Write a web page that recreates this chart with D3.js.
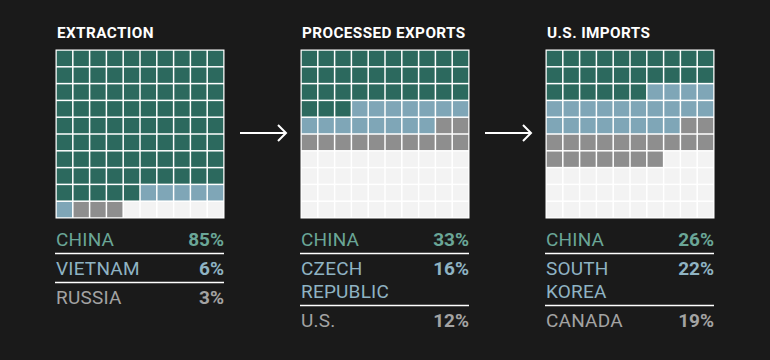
<!DOCTYPE html>
<html>
<head>
<meta charset="utf-8">
<script src="https://cdn.jsdelivr.net/npm/d3@7"></script>
<style>
html,body{margin:0;padding:0;background:#1a1a1a;}
svg{display:block;}
</style>
</head>
<body>
<svg id="chart" width="770" height="360"></svg>
<script>
// ---- data ----
const titles = ["EXTRACTION", "PROCESSED EXPORTS", "U.S. IMPORTS"];
const countries = [
  ["CHINA", "VIETNAM", "RUSSIA"],
  ["CHINA", "CZECH REPUBLIC", "U.S."],
  ["CHINA", "SOUTH KOREA", "CANADA"]
];
const shares = [
  [85, 6, 3],
  [33, 16, 12],
  [26, 22, 19]
];
// squares drawn in each waffle
const squares = [
  [85, 6, 3],
  [33, 15, 12],
  [26, 22, 19]
];
const rankColors = ["#2c695e", "#7fa6b7", "#8e8e8e"];
const textColors = ["#6aa697", "#8fb3c3", "#a3a3a3"];
const emptyColor = "#f3f3f3";

// ---- layout ----
const svg = d3.select("#chart");
const W = 770, H = 360;
svg.append("rect").attr("width", W).attr("height", H).attr("fill", "#1a1a1a");

const panelX = d3.scalePoint().domain(d3.range(titles.length)).range([56, 546]);
const gridSize = 168;
const gridTop = 50;
const cellScale = d3.scaleBand().domain(d3.range(10)).range([0, gridSize]).padding(0);

const font = "'Roboto', 'Liberation Sans', sans-serif";

titles.forEach((title, p) => {
  const g = svg.append("g").attr("transform", `translate(${panelX(p)},0)`);
  g.append("text")
    .attr("x", 1).attr("y", 38)
    .attr("fill", "#ffffff")
    .attr("font-family", font)
    .attr("font-weight", 700)
    .attr("font-size", 15.3)
    .attr("letter-spacing", 0.4)
    .text(title);

  // waffle cells
  const cells = [];
  let idx = 0;
  squares[p].forEach((v, k) => { for (let i = 0; i < v; i++) cells.push({ i: idx++, k }); });
  while (idx < 100) cells.push({ i: idx++, k: -1 });

  const grid = g.append("g").attr("transform", `translate(0,${gridTop})`);
  grid.append("rect").attr("x", -0.5).attr("y", -0.5)
    .attr("width", gridSize + 1).attr("height", gridSize + 1).attr("fill", "#ffffff");
  grid.selectAll("rect.cell").data(cells).join("rect")
    .attr("class", "cell")
    .attr("x", d => cellScale(d.i % 10) + 0.75)
    .attr("y", d => cellScale(Math.floor(d.i / 10)) + 0.75)
    .attr("width", cellScale.bandwidth() - 1.5)
    .attr("height", cellScale.bandwidth() - 1.5)
    .attr("fill", d => d.k < 0 ? emptyColor : rankColors[d.k]);

  // legend table
  let base = 246;
  const maxLabel = 100;
  countries[p].forEach((name, k) => {
    const t = g.append("text")
      .attr("x", 0).attr("y", base)
      .attr("fill", textColors[k])
      .attr("font-family", font)
      .attr("font-size", 19)
      .attr("font-weight", 400)
      .attr("letter-spacing", 0.2);
    const words = name.split(" ");
    let lines = [], cur = "";
    const probe = svg.append("text").attr("font-family", font).attr("font-size", 19).attr("visibility", "hidden");
    words.forEach(w => {
      const test = cur ? cur + " " + w : w;
      probe.text(test);
      if (probe.node().getComputedTextLength() > maxLabel && cur) { lines.push(cur); cur = w; }
      else cur = test;
    });
    lines.push(cur);
    probe.remove();
    lines.forEach((ln, li) => {
      t.append("tspan").attr("x", 0).attr("y", base + li * 23).text(ln);
    });
    g.append("text")
      .attr("x", gridSize).attr("y", base)
      .attr("text-anchor", "end")
      .attr("fill", textColors[k])
      .attr("font-family", font)
      .attr("font-size", 19)
      .attr("font-weight", 700)
      .text(shares[p][k] + "%");
    const lastBase = base + (lines.length - 1) * 23;
    if (k < countries[p].length - 1) {
      const ly = lastBase + 7.5;
      g.append("line")
        .attr("x1", -1).attr("x2", gridSize)
        .attr("y1", ly).attr("y2", ly)
        .attr("stroke", "#ffffff").attr("stroke-width", 1.5);
      base = ly + 21.5;
    }
  });
});

// arrows
const arrowY = 133;
d3.range(titles.length - 1).forEach(p => {
  const x0 = panelX(p) + gridSize + 16;
  const x1 = panelX(p + 1) - 15;
  const a = svg.append("g").attr("stroke", "#ffffff").attr("stroke-width", 2).attr("fill", "none");
  a.append("line").attr("x1", x0).attr("x2", x1).attr("y1", arrowY).attr("y2", arrowY);
  a.append("path").attr("d", `M${x1 - 8},${arrowY - 8}L${x1},${arrowY}L${x1 - 8},${arrowY + 8}`);
});
</script>
</body>
</html>
